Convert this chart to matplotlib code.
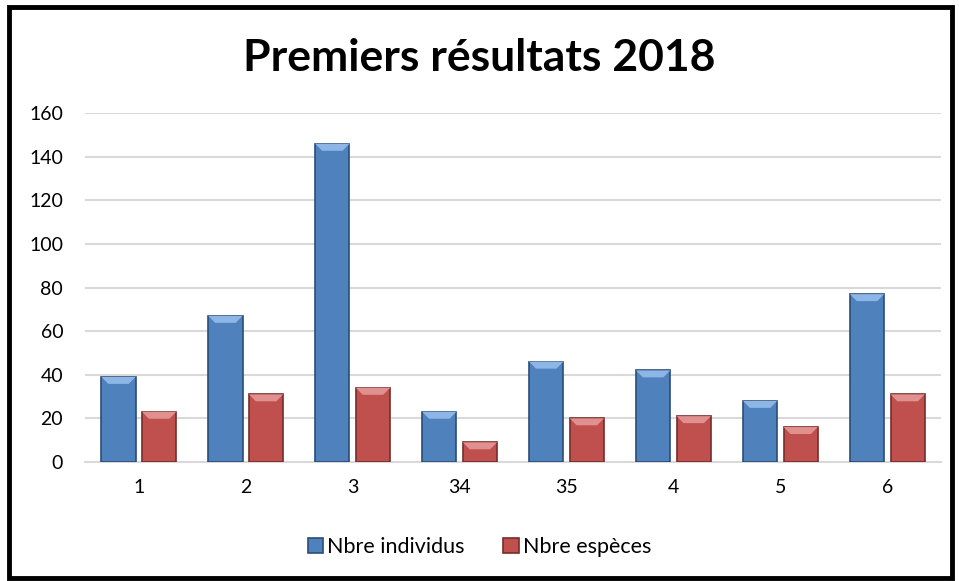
import numpy as np
import matplotlib.pyplot as plt
from matplotlib.patches import Rectangle, Polygon

# Donnees
categories = ["1", "2", "3", "34", "35", "4", "5", "6"]
individus = [39, 67, 146, 23, 46, 42, 28, 77]
especes = [23, 31, 34, 9, 20, 21, 16, 31]
yticks = [0, 20, 40, 60, 80, 100, 120, 140, 160]

blue = "#4F81BD"
red = "#C0504D"

plt.rcParams['font.family'] = ['Lato', 'DejaVu Sans']

fig = plt.figure(figsize=(9.59, 5.81), dpi=100)
ax = fig.add_axes([0.089, 0.205, 0.892, 0.6])

x = np.arange(len(categories))
w = 0.32
b1 = ax.bar(x - 0.19, individus, w, color=blue, edgecolor="#2C4D75", linewidth=1.2,
            label="Nbre individus", zorder=3)
b2 = ax.bar(x + 0.19, especes, w, color=red, edgecolor="#772C2A", linewidth=1.2,
            label="Nbre espèces", zorder=3)

# petit biseau clair en haut des barres
for bars, light in [(b1, "#8DB5E6"), (b2, "#E0908E")]:
    for p in bars:
        x0, bw, h = p.get_x(), p.get_width(), p.get_height()
        bev = min(3.2, h * 0.4)
        ins = bw * 0.2
        ax.add_patch(Polygon([(x0, h), (x0 + bw, h), (x0 + bw - ins, h - bev), (x0 + ins, h - bev)],
                             closed=True, facecolor=light, edgecolor='none', zorder=4))

ax.set_xlim(-0.5, len(categories) - 0.5)
ax.set_ylim(0, 160)
ax.set_yticks(yticks)
ax.set_xticks(x)
ax.set_xticklabels(categories)
ax.tick_params(axis='both', length=0, labelsize=14, colors="#000000")
ax.tick_params(axis='y', pad=16)
ax.tick_params(axis='x', pad=12)
ax.grid(axis='y', color="#D9D9D9", linewidth=1.5, zorder=0)
for s in ['top', 'right', 'left']:
    ax.spines[s].set_visible(False)
ax.spines['bottom'].set_color("#D9D9D9")
ax.spines['bottom'].set_linewidth(1.5)

fig.text(0.5, 0.9, "Premiers résultats 2018", ha='center', va='center',
         fontsize=32, fontweight='bold')

fig.legend(loc='center', bbox_to_anchor=(0.5, 0.058), ncol=2, frameon=False,
           fontsize=15.5, handlelength=0.7, handleheight=0.7, handletextpad=0.2,
           columnspacing=1.8)

fig.patches.append(Rectangle((0.009, 0.006), 0.984, 0.982, transform=fig.transFigure,
                             fill=False, edgecolor='black', linewidth=3.5))

fig.savefig("out.png", dpi=100)
